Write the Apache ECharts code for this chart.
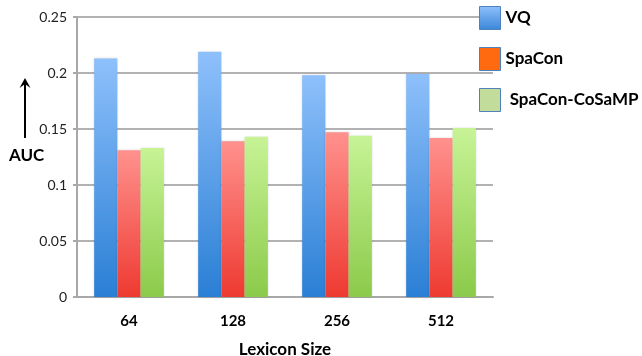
<!DOCTYPE html>
<html>
<head>
<meta charset="utf-8">
<script src="https://cdn.jsdelivr.net/npm/echarts@6/dist/echarts.min.js"></script>
<style>
  html, body { margin: 0; padding: 0; background: #fff; }
  #chart { width: 642px; height: 356px; }
</style>
</head>
<body>
<div id="chart"></div>
<script>
// Lexicon sizes on the x axis
const categories = ['64', '128', '256', '512'];
// AUC per method
const vqValues = [0.213, 0.219, 0.198, 0.199];
const spaconValues = [0.131, 0.139, 0.147, 0.142];
const cosampValues = [0.133, 0.143, 0.144, 0.151];
const seriesNames = ['VQ', 'SpaCon', 'SpaCon-CoSaMP'];

const FONT = 'Lato, "Open Sans", sans-serif';

function vgrad(top, bottom) {
  return new echarts.graphic.LinearGradient(0, 0, 0, 1, [
    { offset: 0, color: top },
    { offset: 1, color: bottom }
  ]);
}

const barColors = [
  vgrad('#8ec0fb', '#2a7fd5'),
  vgrad('#ff918d', '#ee3a31'),
  vgrad('#c7f396', '#8bca4a')
];

const legendColors = [
  { color: vgrad('#8ec0fb', '#3a86d8'), borderColor: '#4f81bd' },
  { color: '#ff6a10', borderColor: '#4f81bd' },
  { color: '#c2dc9c', borderColor: '#4f81bd' }
];

const chart = echarts.init(document.getElementById('chart'), null, { renderer: 'canvas' });

const values = [vqValues, spaconValues, cosampValues];

chart.setOption({
  animation: false,
  backgroundColor: '#ffffff',
  textStyle: { fontFamily: FONT },
  grid: { left: 77, right: 149, top: 17, bottom: 59, outerBoundsMode: 'none', containLabel: false },
  legend: {
    orient: 'vertical',
    left: 479,
    top: 6,
    padding: 0,
    itemWidth: 21,
    itemHeight: 23,
    itemGap: 17,
    icon: 'rect',
    selectedMode: false,
    textStyle: { fontFamily: FONT, fontWeight: 'bold', fontSize: 17, color: '#000' },
    formatter: function (name) {
      return name === 'SpaCon-CoSaMP' ? ' ' + name : name;
    },
    data: seriesNames.map(function (n, i) {
      return {
        name: n,
        itemStyle: {
          color: legendColors[i].color,
          borderColor: legendColors[i].borderColor,
          borderWidth: 1
        }
      };
    })
  },
  xAxis: {
    type: 'category',
    data: categories,
    name: 'Lexicon Size',
    nameLocation: 'middle',
    nameGap: 44,
    nameTextStyle: { fontFamily: FONT, fontWeight: 'bold', fontSize: 17, color: '#000' },
    axisLine: { lineStyle: { color: '#a8a8a8', width: 2 } },
    axisTick: { show: false },
    axisLabel: { fontFamily: FONT, fontWeight: 'bold', fontSize: 15, color: '#000', margin: 17 }
  },
  yAxis: {
    type: 'value',
    min: 0,
    max: 0.25,
    interval: 0.05,
    axisLine: { show: true, lineStyle: { color: '#a8a8a8', width: 2 } },
    axisTick: { show: true, length: 4, lineStyle: { color: '#a8a8a8', width: 2 } },
    splitLine: { lineStyle: { color: '#b2b2b2', width: 2 } },
    axisLabel: { fontFamily: FONT, fontSize: 14, color: '#222', margin: 10 }
  },
  series: seriesNames.map(function (n, i) {
    return {
      name: n,
      type: 'bar',
      data: values[i],
      barGap: '0%',
      barCategoryGap: '33%',
      itemStyle: {
        color: barColors[i],
        shadowColor: 'rgba(0,0,0,0.15)',
        shadowBlur: 2
      }
    };
  }),
  graphic: [
    {
      type: 'line',
      shape: { x1: 25, y1: 138, x2: 25, y2: 84 },
      style: { stroke: '#000', lineWidth: 2 }
    },
    {
      type: 'polygon',
      shape: { points: [[25, 78], [19.5, 88], [25, 84], [30.5, 88]] },
      style: { fill: '#000' }
    },
    {
      type: 'text',
      left: 9,
      top: 147,
      style: {
        text: 'AUC',
        fontFamily: FONT,
        fontWeight: 'bold',
        fontSize: 17,
        fill: '#000'
      }
    }
  ]
});
</script>
</body>
</html>
